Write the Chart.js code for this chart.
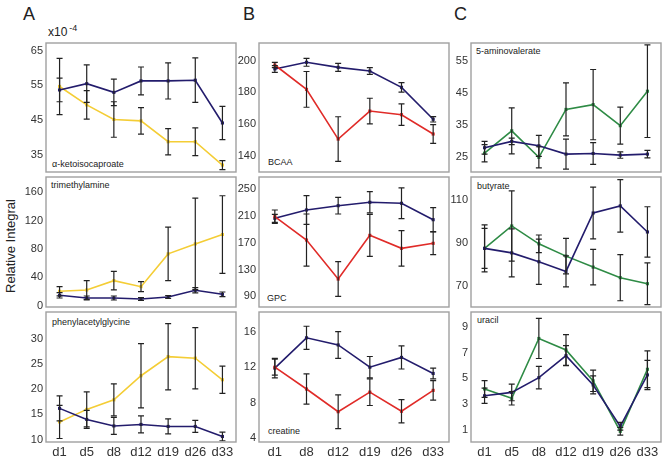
<!DOCTYPE html>
<html>
<head>
<meta charset="utf-8">
<script src="https://cdn.jsdelivr.net/npm/chart.js"></script>
<style>
  body { margin: 0; background: #fff; width: 662px; height: 459px; position: relative; overflow: hidden; font-family: "Liberation Sans", Arial, sans-serif; color: #222; }
  canvas { position: absolute; }
  .lbl { position: absolute; white-space: nowrap; }
  .letter { font-size: 18px; line-height: 18px; }
  .name { font-size: 9px; line-height: 11px; color: #222; }
</style>
</head>
<body>
<div class="lbl letter" style="left:23px;top:5px">A</div>
<div class="lbl letter" style="left:243px;top:5px">B</div>
<div class="lbl letter" style="left:454px;top:5px">C</div>
<div class="lbl" style="left:48px;top:26px;font-size:12px;line-height:12px">x10<span style="font-size:9px;position:relative;top:-5px;margin-left:2px">-4</span></div>
<div class="lbl" style="left:10px;top:246px;font-size:13px;transform:translate(-50%,-50%) rotate(-90deg)">Relative Integral</div>

<div class="lbl name" style="left:52px;top:159px">α-ketoisocaproate</div>
<div class="lbl name" style="left:51px;top:180px">trimethylamine</div>
<div class="lbl name" style="left:52px;top:317px">phenylacetylglycine</div>
<div class="lbl name" style="left:268px;top:157px">BCAA</div>
<div class="lbl name" style="left:267px;top:293px">GPC</div>
<div class="lbl name" style="left:268px;top:426px">creatine</div>
<div class="lbl name" style="left:476px;top:46px">5-aminovalerate</div>
<div class="lbl name" style="left:477px;top:181px">butyrate</div>
<div class="lbl name" style="left:477px;top:315px">uracil</div>

<script>
var daysA = ['d1', 'd5', 'd8', 'd12', 'd19', 'd26', 'd33'];
var daysB = ['d1', 'd8', 'd12', 'd19', 'd26', 'd33'];

// A: alpha-ketoisocaproate (x10^-4)
var kicNavy = [53.7, 55.5, 53.0, 56.3, 56.3, 56.5, 44.2];
var kicNavyErr = [3.4, 5.4, 3.8, 4.0, 5.2, 6.4, 4.8];
var kicYellow = [54.7, 49.4, 45.2, 44.8, 38.8, 38.8, 32.1];
var kicYellowErr = [8.1, 4.1, 5.1, 3.8, 3.8, 4.0, 1.3];
var kicTicks = [35, 45, 55, 65];

// A: trimethylamine
var tmaNavy = [14.6, 10.8, 10.8, 9.4, 12.2, 21.7, 16.0];
var tmaNavyErr = [3.8, 2.8, 2.8, 2.0, 2.0, 3.8, 3.3];
var tmaYellow = [20.3, 22.1, 35.3, 26.8, 73.1, 87.2, 100.4];
var tmaYellowErr = [6.6, 13.2, 13, 7, 37.7, 64.6, 54.7];
var tmaTicks = [0, 40, 80, 120, 160];

// A: phenylacetylglycine
var pagNavy = [16.2, 14.0, 12.7, 13.0, 12.6, 12.6, 10.6];
var pagNavyErr = [2.5, 1.8, 1.7, 1.7, 1.5, 1.2, 0.85];
var pagYellow = [13.5, 16.0, 17.9, 22.7, 26.5, 26.2, 21.9];
var pagYellowErr = [3.3, 3.5, 3.2, 6.4, 6.6, 6.1, 2.7];
var pagTicks = [10, 15, 20, 25, 30];

// B: BCAA
var bcaaNavy = [194.8, 199.0, 195.8, 193.5, 183.2, 163.0];
var bcaaNavyErr = [2.1, 2.5, 2.5, 2.1, 3.0, 1.7];
var bcaaRed = [197.3, 181.9, 150.5, 168.2, 165.9, 153.7];
var bcaaRedErr = [1.7, 11.3, 14.1, 8.1, 6.8, 5.9];
var bcaaTicks = [140, 160, 180, 200];

// B: GPC
var gpcNavy = [206.4, 218.8, 225.2, 230.3, 228.8, 204.3];
var gpcNavyErr = [6, 21.4, 12.4, 15.9, 22.9, 17.9];
var gpcRed = [208.8, 174.0, 115.8, 181.0, 161.6, 169.1];
var gpcRedErr = [10, 38.8, 25.9, 31.3, 26.4, 16.9];
var gpcTicks = [90, 130, 170, 210, 250];

// B: creatine
var creNavy = [11.9, 15.3, 14.5, 12.0, 13.1, 11.3];
var creNavyErr = [1.1, 1.3, 1.5, 1.2, 1.3, 0.6];
var creRed = [12.0, 9.55, 7.0, 9.2, 7.05, 9.4];
var creRedErr = [0.9, 1.7, 1.9, 1.5, 1.3, 1.1];
var creTicks = [4, 8, 12, 16];

// C: 5-aminovalerate
var avaNavy = [27.8, 29.8, 28.4, 25.8, 26.0, 25.5, 25.8];
var avaNavyErr = [2.0, 1.0, 3.3, 4.7, 3.4, 1.0, 1.2];
var avaGreen = [26.1, 33.1, 24.8, 39.8, 41.3, 34.7, 45.5];
var avaGreenErr = [2.7, 7.2, 3.3, 8.3, 11.0, 5.8, 14.5];
var avaTicks = [25, 35, 45, 55];

// C: butyrate
var butNavy = [87.6, 85.5, 81.4, 76.9, 104.0, 107.3, 95.2];
var butNavyErr = [10.9, 11.1, 10.5, 7.2, 12.0, 12.2, 11.7];
var butGreen = [87.6, 98.0, 89.7, 84.0, 78.9, 74.0, 71.2];
var butGreenErr = [9.3, 16.3, 4.1, 8.2, 8.2, 10.7, 9.7];
var butTicks = [70, 90, 110];

// C: uracil
var uraNavy = [3.64, 3.9, 5.05, 6.76, 4.48, 1.26, 5.26];
var uraNavyErr = [0.6, 0.65, 0.87, 0.78, 0.7, 0.3, 1.14];
var uraGreen = [4.17, 3.44, 8.1, 7.2, 4.8, 0.87, 5.7];
var uraGreenErr = [0.65, 0.52, 1.56, 1.2, 0.83, 0.3, 1.43];
var uraTicks = [1, 3, 5, 7, 9];

var navy = '#231c6c';
var yellow = '#f4cd35';
var red = '#e02b28';
var green = '#2e8b45';
var font = '"Liberation Sans", Arial, sans-serif';

var errorBars = {
  id: 'errorBars',
  afterDatasetsDraw: function(chart) {
    var ctx = chart.ctx, a = chart.chartArea, y = chart.scales.y;
    ctx.save();
    ctx.beginPath();
    ctx.rect(a.left, a.top - 2, a.right - a.left, a.bottom - a.top + 4);
    ctx.clip();
    ctx.strokeStyle = '#222';
    ctx.lineWidth = 1.2;
    chart.data.datasets.forEach(function(ds, i) {
      var meta = chart.getDatasetMeta(i);
      meta.data.forEach(function(pt, j) {
        var v = ds.data[j], e = ds.err[j];
        var y1 = y.getPixelForValue(v - e), y2 = y.getPixelForValue(v + e);
        ctx.beginPath();
        ctx.moveTo(pt.x, y1); ctx.lineTo(pt.x, y2);
        ctx.moveTo(pt.x - 3, y1); ctx.lineTo(pt.x + 3, y1);
        ctx.moveTo(pt.x - 3, y2); ctx.lineTo(pt.x + 3, y2);
        ctx.stroke();
      });
    });
    ctx.restore();
  }
};

var frame = {
  id: 'frame',
  afterDraw: function(chart) {
    var ctx = chart.ctx, a = chart.chartArea;
    ctx.save();
    ctx.strokeStyle = '#a0a0a0';
    ctx.lineWidth = 1.4;
    ctx.strokeRect(a.left, a.top, a.right - a.left, a.bottom - a.top);
    ctx.restore();
  }
};

function line(data, err, color) {
  return {
    data: data, err: err,
    borderColor: color, backgroundColor: color,
    borderWidth: 1.6, pointStyle: 'rect', pointRadius: 2.2,
    pointBorderWidth: 0, tension: 0
  };
}

function panel(left, top, w, h, labels, sets, yMin, yMax, ticks, showX) {
  var c = document.createElement('canvas');
  c.width = 44 + w + 4;
  c.height = 14 + h + (showX ? 22 : 14);
  c.style.left = (left - 44) + 'px';
  c.style.top = (top - 14) + 'px';
  document.body.appendChild(c);
  new Chart(c.getContext('2d'), {
    type: 'line',
    data: { labels: labels, datasets: sets },
    plugins: [frame, errorBars],
    options: {
      responsive: false,
      animation: false,
      layout: { padding: { left: 0, top: 14, right: 4, bottom: showX ? 2 : 14 } },
      plugins: { legend: { display: false }, tooltip: { enabled: false } },
      scales: {
        x: {
          display: showX, offset: true,
          grid: { display: false, drawTicks: false }, border: { display: false },
          ticks: { color: '#333', font: { family: font, size: 13 }, padding: 3, maxRotation: 0, autoSkip: false },
          afterFit: function(s) { if (showX) s.height = 20; }
        },
        y: {
          min: yMin, max: yMax,
          grid: { display: false, drawTicks: false }, border: { display: false },
          ticks: { color: '#333', font: { family: font, size: 11 }, padding: 3 },
          afterBuildTicks: function(s) { s.ticks = ticks.map(function(v) { return { value: v }; }); },
          afterFit: function(s) { s.width = 44; }
        }
      }
    }
  });
}

panel(46, 43, 190, 129, daysA, [line(kicNavy, kicNavyErr, navy), line(kicYellow, kicYellowErr, yellow)], 30.1, 67.2, kicTicks, false);
panel(46, 177, 190, 130, daysA, [line(tmaNavy, tmaNavyErr, navy), line(tmaYellow, tmaYellowErr, yellow)], -1.9, 181.6, tmaTicks, false);
panel(46, 312, 190, 130, daysA, [line(pagNavy, pagNavyErr, navy), line(pagYellow, pagYellowErr, yellow)], 9.5, 35.4, pagTicks, true);

panel(259, 43, 190, 129, daysB, [line(bcaaRed, bcaaRedErr, red), line(bcaaNavy, bcaaNavyErr, navy)], 129.7, 211.2, bcaaTicks, false);
panel(259, 177, 190, 130, daysB, [line(gpcRed, gpcRedErr, red), line(gpcNavy, gpcNavyErr, navy)], 74.1, 268, gpcTicks, false);
panel(259, 312, 190, 130, daysB, [line(creRed, creRedErr, red), line(creNavy, creNavyErr, navy)], 3.6, 18.2, creTicks, true);

panel(471, 43, 190, 129, daysA, [line(avaNavy, avaNavyErr, navy), line(avaGreen, avaGreenErr, green)], 20.2, 60.6, avaTicks, false);
panel(471, 177, 190, 130, daysA, [line(butNavy, butNavyErr, navy), line(butGreen, butGreenErr, green)], 60.4, 120.7, butTicks, false);
panel(471, 312, 190, 130, daysA, [line(uraNavy, uraNavyErr, navy), line(uraGreen, uraGreenErr, green)], 0.04, 10.16, uraTicks, true);
</script>
</body>
</html>
